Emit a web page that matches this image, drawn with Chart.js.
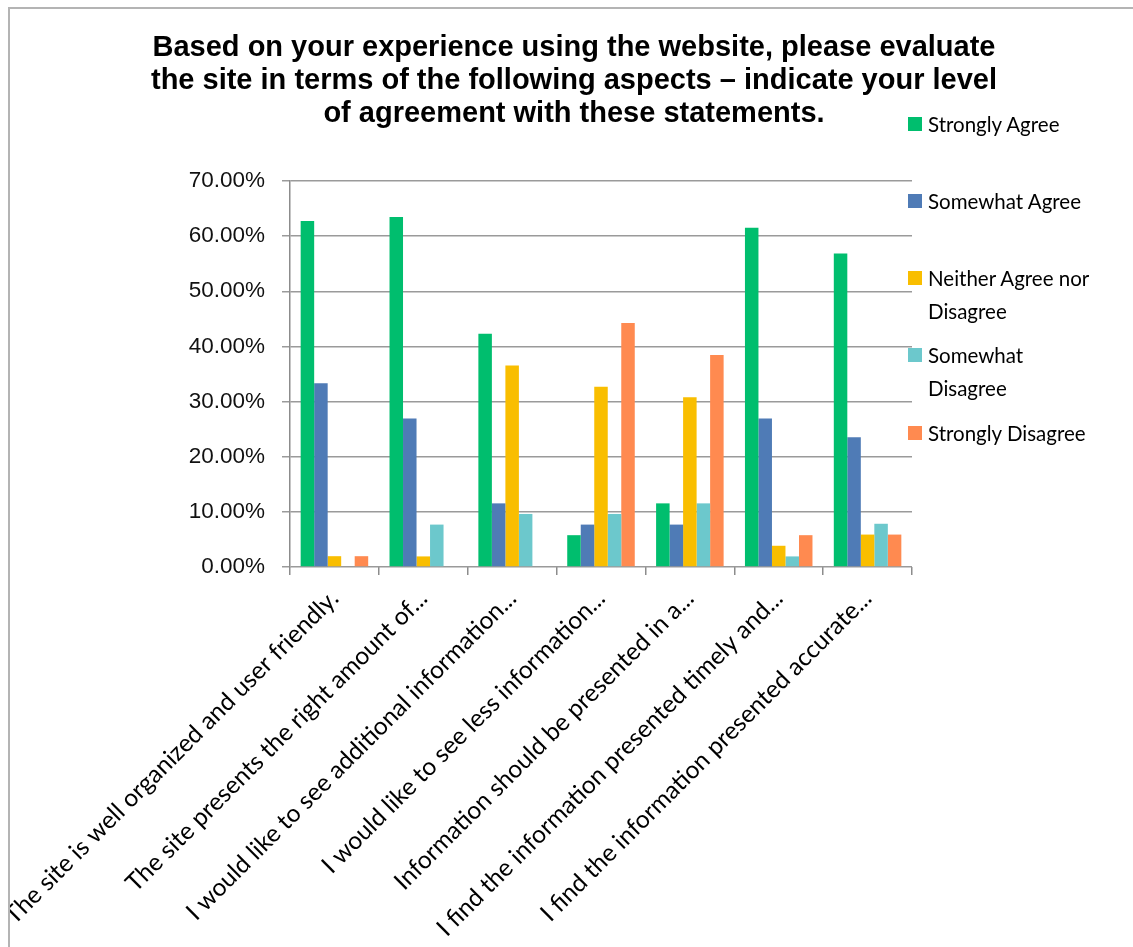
<!DOCTYPE html>
<html>
<head>
<meta charset="utf-8">
<script src="https://cdn.jsdelivr.net/npm/chart.js@4"></script>
<style>
  body { margin: 0; background: #fff; width: 1133px; height: 947px; overflow: hidden; position: relative; }
  #frame { position: absolute; left: 8px; top: 7px; width: 1200px; height: 1000px;
           border-left: 2px solid #b4b4b4; border-top: 2px solid #b4b4b4; overflow: hidden; }
  #frame canvas { position: absolute; left: -10px; top: -9px; }
  #title { position: absolute; left: 0; width: 1148px; top: 30px; text-align: center;
           font: bold 29px "Liberation Sans", Arial, sans-serif; line-height: 33px; color: #000; }
  #legend { position: absolute; left: 908px; top: 108px; font: 20.5px Lato, sans-serif; color: #000; }
  .item { position: absolute; left: 0; white-space: nowrap; line-height: 33px; }
  .item span.box { position: absolute; left: 0; top: 9px; width: 14px; height: 14px; }
  .item span.txt { position: absolute; left: 20px; top: 0; }
</style>
</head>
<body>
<div id="frame"><canvas id="myChart" width="1133" height="947"></canvas></div>
<div id="title">Based on your experience using the website, please evaluate<br>the site in terms of the following aspects – indicate your level<br>of agreement with these statements.</div>
<div id="legend"></div>
<script>
var labels = [
	'The site is well organized and user friendly.',
	'The site presents the right amount of...',
	'I would like to see additional information...',
	'I would like to see less information...',
	'Information should be presented in a...',
	'I find the information presented timely and...',
	'I find the information presented accurate...'
];
var seriesNames = ['Strongly Agree', 'Somewhat Agree', 'Neither Agree nor Disagree', 'Somewhat Disagree', 'Strongly Disagree'];
var colors = ['#00BE6E', '#4F7BB6', '#F9BE00', '#6CC8CC', '#FF8A50'];

// percent of responses per statement
var stronglyAgree    = [62.75, 63.46, 42.31, 5.77, 11.54, 61.54, 56.86];
var somewhatAgree    = [33.33, 26.92, 11.54, 7.69, 7.69, 26.92, 23.53];
var neither          = [1.96, 1.92, 36.54, 32.69, 30.77, 3.85, 5.88];
var somewhatDisagree = [0, 7.69, 9.62, 9.62, 11.54, 1.92, 7.84];
var stronglyDisagree = [1.96, 0, 0, 44.23, 38.46, 5.77, 5.88];
var yTicks = [0, 10, 20, 30, 40, 50, 60, 70];

var series = [stronglyAgree, somewhatAgree, neither, somewhatDisagree, stronglyDisagree];

// legend lines (long names wrap like the original)
var legendLines = [['Strongly Agree'], ['Somewhat Agree'], ['Neither Agree nor', 'Disagree'], ['Somewhat', 'Disagree'], ['Strongly Disagree']];
var legendTops = [0, 77, 154, 231, 309];
var legend = document.getElementById('legend');
for (var i = 0; i < seriesNames.length; i++) {
	var it = document.createElement('div');
	it.className = 'item';
	it.style.top = legendTops[i] + 'px';
	it.innerHTML = '<span class="box" style="background:' + colors[i] + '"></span><span class="txt">' + legendLines[i].join('<br>') + '</span>';
	legend.appendChild(it);
}

var datasets = series.map(function (d, i) {
	return { label: seriesNames[i], data: d, backgroundColor: colors[i] };
});

var ctx = document.getElementById('myChart').getContext('2d');
var chart = new Chart(ctx, {
	type: 'bar',
	data: { labels: labels, datasets: datasets },
	options: {
		responsive: false,
		animation: false,
		categoryPercentage: 0.76,
		barPercentage: 1,
		layout: { padding: { top: 181, right: 221, left: 0, bottom: 0 } },
		plugins: { legend: { display: false }, title: { display: false }, tooltip: { enabled: false } },
		scales: {
			x: {
				grid: { display: true, drawOnChartArea: false, offset: true, tickLength: 8, color: '#8c8c8c', lineWidth: 1.5 },
				border: { display: false },
				ticks: { minRotation: 45, maxRotation: 45, autoSkip: false, color: '#000', padding: 9,
					font: { family: 'Lato', size: 24.5 } },
				afterFit: function (s) { s.paddingLeft = 0; s.paddingRight = 0; s.height = 380; }
			},
			y: {
				min: 0, max: 70,
				afterBuildTicks: function (s) { s.ticks = yTicks.map(function (v) { return { value: v }; }); },
				grid: { color: '#9a9a9a', lineWidth: 1.5, tickLength: 8 },
				border: { color: '#8c8c8c', width: 1.5 },
				ticks: { color: '#111', padding: 17, font: { family: 'Liberation Sans', size: 22.5 },
					callback: function (v) { return v.toFixed(2) + '%'; } },
				afterFit: function (s) { s.width = 290; s.paddingTop = 0; }
			}
		}
	}
});
</script>
</body>
</html>
